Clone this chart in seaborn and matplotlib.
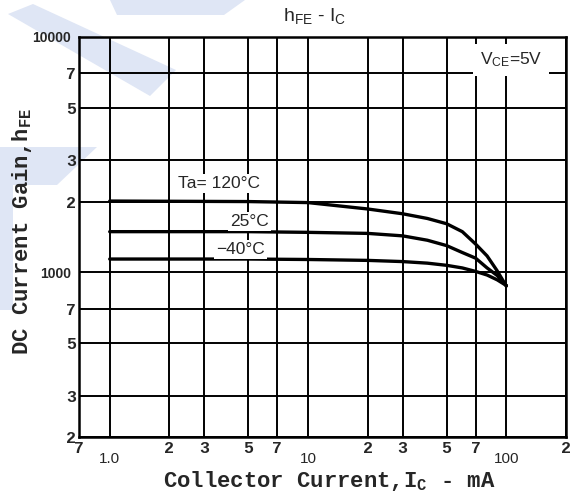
import numpy as np
import pandas as pd
import matplotlib
matplotlib.use("Agg")
import matplotlib.pyplot as plt
from matplotlib.patches import Polygon
import seaborn as sns

# ---------------- data ----------------
ic_ma = [1, 5, 10, 20, 30, 40, 50, 60, 70, 80, 90, 100]
hfe_120 = [2010, 2000, 1980, 1860, 1775, 1695, 1610, 1490, 1320, 1175, 1015, 875]
hfe_25 = [1490, 1490, 1480, 1465, 1430, 1370, 1300, 1215, 1150, 1045, 970, 880]
hfe_m40 = [1140, 1140, 1135, 1125, 1112, 1095, 1072, 1045, 1010, 975, 930, 880]
temps = ["120", "25", "-40"]

x_major = [1, 10, 100]
x_major_labels = ["1.0", "10", "100"]
x_minor = [0.7, 2, 3, 5, 7, 20, 30, 50, 70, 200]
x_minor_labels = ["7", "2", "3", "5", "7", "2", "3", "5", "7", "2"]
y_major = [1000, 10000]
y_major_labels = ["1000", "10000"]
y_minor = [200, 300, 500, 700, 2000, 3000, 5000, 7000]
y_minor_labels = ["2", "3", "5", "7", "2", "3", "5", "7"]

curve_labels = ["Ta= 120°C", "25°C", "\u221240°C"]
curve_label_x = [3.57, 5.05, 4.55]
curve_label_y = [2380, 1651, 1254]

# ---------------- style ----------------
sns.set_style("white")
plt.rcParams["font.family"] = ["Liberation Mono", "DejaVu Sans"]
plt.rcParams["mathtext.fontset"] = "custom"
plt.rcParams["mathtext.rm"] = "Liberation Mono:bold"
plt.rcParams["mathtext.it"] = "Liberation Mono:bold"
plt.rcParams["mathtext.sf"] = "Liberation Sans"

W, H = 573, 499
fig = plt.figure(figsize=(W / 100, H / 100), dpi=100)
fig.patch.set_facecolor("white")
ax = fig.add_axes([79 / W, 1 - 437 / H, (566 - 79) / W, (437 - 37) / H])
ax.set_facecolor("none")

# faint watermark behind everything (image pixel coords, y down)
wm = "#dfe6f5"
def img_poly(pts):
    return Polygon([(x, H - y) for x, y in pts], closed=True, transform=None,
                   facecolor=wm, edgecolor="none", zorder=-5)
for pts in [
    [(8, 14), (33, 4), (176, 70), (150, 96)],
    [(110, 0), (245, 0), (224, 15), (117, 15)],
    [(0, 147), (97, 147), (57, 185), (13, 185), (13, 310), (0, 310)],
]:
    fig.patches.append(img_poly(pts))

df = pd.DataFrame({
    "ic": ic_ma * 3,
    "hfe": hfe_120 + hfe_25 + hfe_m40,
    "temp": [temps[0]] * len(ic_ma) + [temps[1]] * len(ic_ma) + [temps[2]] * len(ic_ma),
})

sns.lineplot(data=df, x="ic", y="hfe", hue="temp", palette=["black"] * 3,
             legend=False, linewidth=2.4, estimator=None, sort=False, ax=ax, zorder=4)
ax.set_xlabel("")
ax.set_ylabel("")

ax.set_xscale("log")
ax.set_yscale("log")
ax.set_xlim(0.7, 200)
ax.set_ylim(200, 10000)

ax.set_xticks(x_major, x_major_labels)
ax.set_xticks(x_minor, x_minor_labels, minor=True)
ax.set_yticks(y_major, y_major_labels)
ax.set_yticks(y_minor, y_minor_labels, minor=True)

ax.tick_params(axis="both", which="both", length=0)
ax.tick_params(axis="x", which="major", pad=11, labelsize=11)
ax.tick_params(axis="x", which="minor", pad=3, labelsize=12)
ax.tick_params(axis="y", which="major", pad=6, labelsize=10)
ax.tick_params(axis="y", which="minor", pad=2, labelsize=12)

for lab in ax.get_xticklabels():
    lab.set_fontfamily("Liberation Sans")
for lab in ax.get_xticklabels(minor=True) + ax.get_yticklabels(minor=True):
    lab.set_fontweight("bold")
for lab in ax.get_yticklabels():
    lab.set_fontweight("bold")
    lab.set_fontfamily("Liberation Sans")

ax.grid(True, which="both", color="black", linewidth=1.4)
for s in ax.spines.values():
    s.set_visible(True)
    s.set_color("black")
    s.set_linewidth(1.8)

for txt, lx, ly in zip(curve_labels, curve_label_x, curve_label_y):
    ax.text(lx, ly, txt, ha="center", va="center", fontsize=12.5,
            family="Liberation Sans", zorder=5,
            bbox=dict(facecolor="white", edgecolor="none", pad=1.5))

ax.text(106, 7980, r"V$_{\mathsf{CE}}$=5V", ha="center", va="center", fontsize=12.5,
        family="Liberation Sans", zorder=5,
        bbox=dict(facecolor="white", edgecolor="none", pad=5))

fig.text(315 / W, 1 - 16 / H, r"h$_{\mathsf{FE}}$ - I$_{\mathsf{C}}$", ha="center",
         va="center", fontsize=14, family="Liberation Sans")
fig.text(329 / W, 1 - 481 / H, r"Collector Current,I$_{\mathrm{C}}$ - mA", ha="center",
         va="center", fontsize=16, fontweight="bold", family="Liberation Mono")
fig.text(22 / W, 1 - 231 / H, r"DC Current Gain,h$_{\mathrm{FE}}$", ha="center",
         va="center", fontsize=16, fontweight="bold", family="Liberation Mono",
         rotation=90)

fig.savefig("out.png", dpi=100)
